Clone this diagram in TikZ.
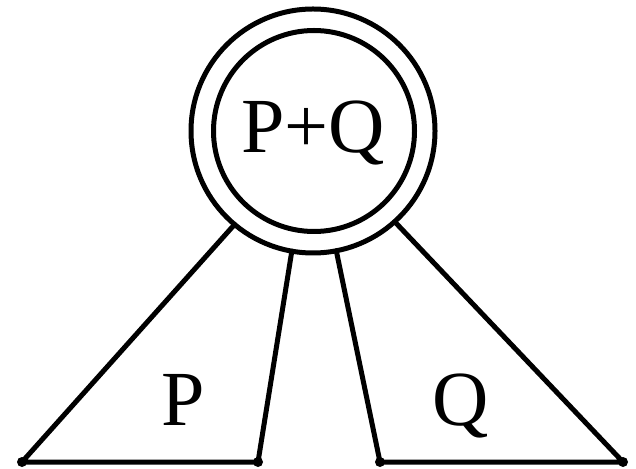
\documentclass[tikz,border=0pt]{standalone}
\usepackage{fontspec}
\setmainfont{Liberation Serif}
\begin{document}
\begin{tikzpicture}[x=1pt,y=1pt,
  ring/.style={draw, circle, line width=5pt, inner sep=0pt, outer sep=0pt},
  edge/.style={line width=5pt, line cap=round, line join=round},
  dot/.style={circle, fill, inner sep=0pt, minimum size=10pt},
  lbl/.style={font=\fontsize{78}{90}\selectfont, anchor=base, inner sep=0pt}]
\useasboundingbox (0,0) rectangle (636,468);
\node[ring, minimum size=244pt] (outer) at (313,337) {};
\node[ring, minimum size=201pt] (inner) at (314,337) {};
\node[lbl] (pq) at (313,315) {P+Q};
\coordinate (a) at (22,6);
\coordinate (b) at (258,6);
\coordinate (c) at (380,6);
\coordinate (d) at (623,6);
\draw[edge] (outer.230.4) -- (a) -- (b) -- (outer.260.5);
\draw[edge] (outer.281.7) -- (c) -- (d) -- (outer.312.1);
\node[dot] (da) at (a) {};
\node[dot] (db) at (b) {};
\node[dot] (dc) at (c) {};
\node[dot] (dd) at (d) {};
\node[lbl] (p) at (183,43) {P};
\node[lbl] (q) at (461,43) {Q};
\end{tikzpicture}
\end{document}
